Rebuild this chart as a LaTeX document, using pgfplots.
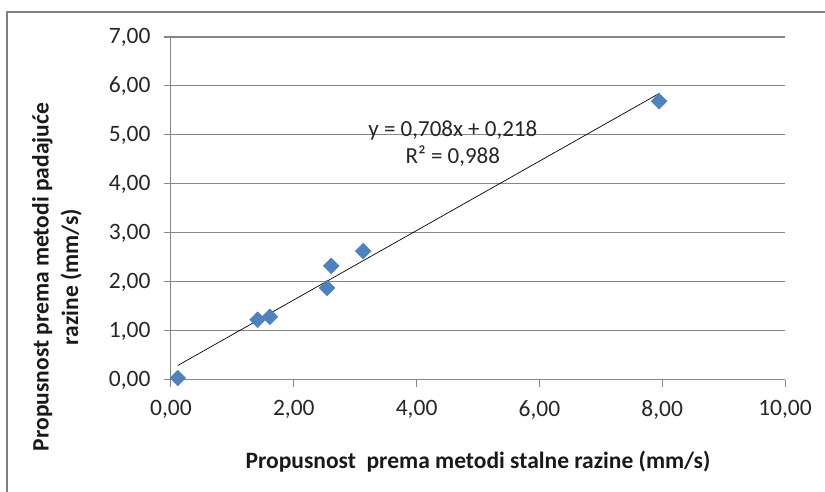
\documentclass[border=0pt]{standalone}
\usepackage{pgfplots}
\pgfplotsset{compat=1.18}
\usepackage{fontspec}
\setmainfont{Carlito}
\definecolor{ser}{RGB}{79,129,189}
\definecolor{grd}{RGB}{134,134,134}
\definecolor{frm}{RGB}{128,128,128}
\begin{document}
\begin{tikzpicture}[x=1pt,y=1pt]
\useasboundingbox (0,0) rectangle (825,492);
\draw[frm, line width=1.5pt] (7,-20) -- (7,480) -- (850,480);
\begin{axis}[
  at={(171pt,112pt)}, anchor=south west,
  scale only axis, width=614pt, height=343pt,
  xmin=0, xmax=10, ymin=0, ymax=7,
  xtick={0,2,...,10}, ytick={0,1,...,7},
  axis x line*=bottom, axis y line*=left,
  ymajorgrids, grid style={grd, line width=1pt},
  axis line style={grd, line width=1pt},
  tick style={grd, line width=1pt},
  tick align=outside, major tick length=7pt,
  ticklabel style={font=\fontsize{23.5}{28}\selectfont, text=black!85},
  yticklabel style={xshift=-10pt},
  xticklabel style={yshift=-10pt},
  /pgf/number format/.cd, fixed, fixed zerofill, precision=2, use comma, assume math mode=true,
  /pgfplots/.cd,
  xlabel={Propusnost\ \ prema metodi stalne razine (mm/s)},
  xlabel style={at={(axis description cs:0.5,-0.239)}, anchor=center, font=\bfseries\fontsize{23.5}{28}\selectfont, text=black!90},
  ylabel={Propusnost prema metodi padajuće\\razine (mm/s)},
  ylabel style={at={(axis description cs:-0.186,0.30)}, anchor=center, align=center, font=\bfseries\fontsize{23.5}{29.5}\selectfont, text=black!90},
  clip=false,
]
\addplot[only marks, mark=square*, mark size=5.6pt, mark options={rotate=45, fill=ser, draw=ser}]
  coordinates {(0.11,0.04) (1.41,1.23) (1.61,1.29) (2.54,1.88) (2.61,2.33) (3.13,2.63) (7.95,5.69)};
\addplot[black, line width=0.7pt] coordinates {(0.11,0.296) (7.95,5.847)};
\node[align=center, font=\fontsize{23}{27}\selectfont, text=black!85] at (axis cs:4.59,4.83) {y = 0,708x + 0,218\\R² = 0,988};
\end{axis}
\end{tikzpicture}
\end{document}
